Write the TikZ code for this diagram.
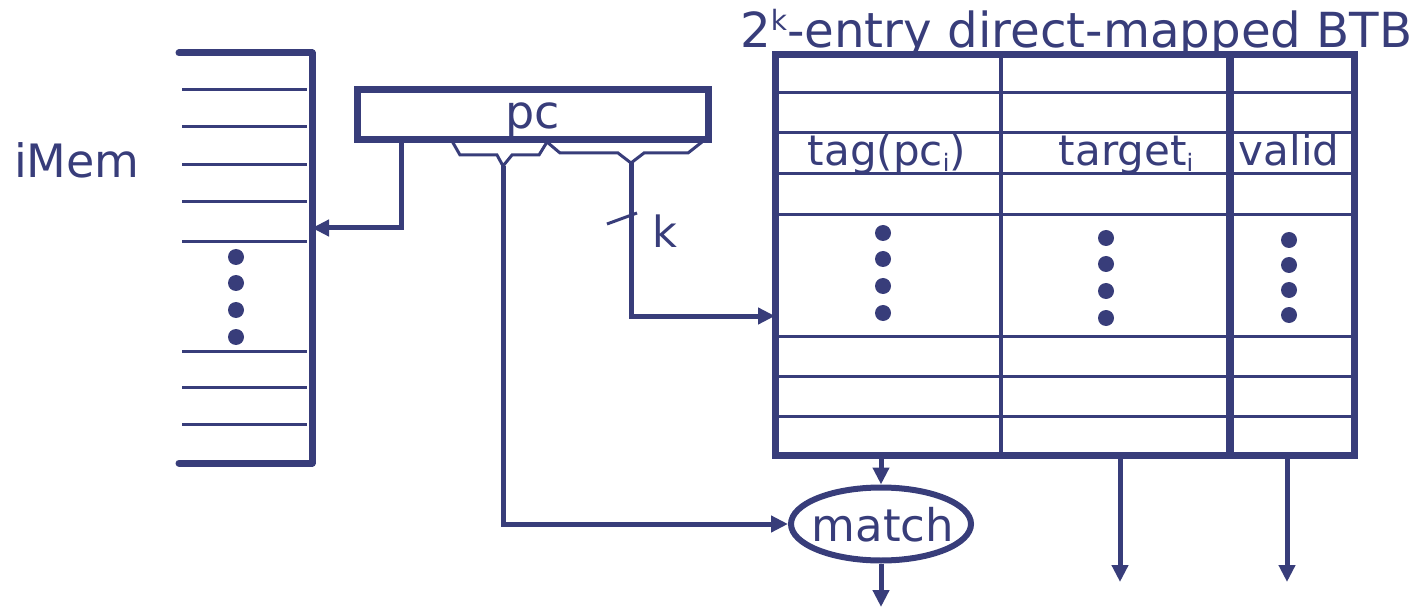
\documentclass[tikz,border=0pt]{standalone}
\usepackage{fontspec}
\setmainfont{DejaVu Sans}
\usetikzlibrary{arrows.meta,shapes.geometric}
\definecolor{ink}{RGB}{56,61,122}
\begin{document}
\begin{tikzpicture}[x=1pt,y=-1pt,
  every node/.style={text=ink, inner sep=0pt},
  heavy/.style={draw=ink,line width=7pt},
  wire/.style={draw=ink,line width=5pt},
  fine/.style={draw=ink,line width=3pt},
  arr/.style={-{Triangle[length=17pt,width=16pt]}},
  dot/.style={circle,fill=ink,minimum size=16pt,inner sep=0pt},
  lbl/.style={font=\fontsize{42}{45}\selectfont, anchor=base}]
\useasboundingbox (0,0) rectangle (1420,609);

% iMem
\draw[heavy, line cap=round, line join=round] (179,53) -- (312,53) -- (312,463) -- (179,463);
\foreach \y in {90,127,165,202,242,351,387,424} \draw[fine] (182,\y) -- (307,\y);
\foreach \y [count=\i] in {257,283,310,337} \node[dot] (md\i) at (236,\y) {};
\node[font=\fontsize{46}{50}\selectfont, anchor=base] (imem) at (77,178) {iMem};
\coordinate (imemport) at (312,228);

% pc register
\node[draw=ink, line width=7pt, minimum width=351pt, minimum height=50pt] (pc) at (532.5,115) {};
\node[font=\fontsize{46}{50}\selectfont, anchor=base] (pctext) at (533,129) {pc};
\coordinate (pcL) at (401,140);
\draw[wire, arr] (pcL) -- (401,228) -- (imemport);

% bit-field brackets
\coordinate (tagtap) at (503,166);
\coordinate (idxtap) at (631,163);
\draw[fine] (452,141) -- (460,155) -- (497,155) -- (tagtap) -- (512,155) -- (539,155) -- (547,142);
\draw[fine] (547,142) -- (560,153) -- (618,153) -- (idxtap) -- (644,153) -- (688,153) -- (702,142);

% BTB
\node[font=\fontsize{48.3}{50}\selectfont, anchor=base west] (title) at (740,48)
  {2{\fontsize{28}{28}\selectfont\raisebox{17pt}{k}}-entry direct-mapped BTB};
\draw[heavy] (775,55) rectangle (1354,455);
\foreach \y in {93,133,174,215,336,376,416} \draw[fine] (775,\y) -- (1354,\y);
\draw[draw=ink, line width=4pt] (1001,55) -- (1001,455);
\draw[draw=ink, line width=8pt] (1230,55) -- (1230,455);
\node[lbl] (tag) at (887,166) {tag(pc{\fontsize{24}{24}\selectfont\raisebox{-6pt}{i}})};
\node[lbl] (target) at (1126,166) {target{\fontsize{24}{24}\selectfont\raisebox{-6pt}{i}}};
\node[lbl] (valid) at (1289,166) {valid};
\foreach \y [count=\i] in {233,259,286,313} \node[dot] (ta\i) at (883,\y) {};
\foreach \y [count=\i] in {238,264,291,318} \node[dot] (tb\i) at (1106,\y) {};
\foreach \y [count=\i] in {240,265,290,315} \node[dot] (tc\i) at (1289,\y) {};
\coordinate (btbport) at (775,316);

% index wire
\draw[wire, arr] (idxtap) -- (631,316) -- (btbport);
\draw[fine] (607,224) -- (637,213);
\node[font=\fontsize{43}{45}\selectfont, anchor=base] (k) at (665,248) {k};

% match
\node[ellipse, draw=ink, line width=6pt, minimum width=180pt, minimum height=73pt] (match) at (881,524) {};
\node[font=\fontsize{45}{50}\selectfont, anchor=base] (matchtext) at (883,541) {match};
\draw[wire, arr] (tagtap) -- (503,524) -- (match.west);
\coordinate (tagout) at (881,457);
\coordinate (matchout) at (881,607);
\coordinate (targout) at (1120,457);
\coordinate (targend) at (1120,582);
\coordinate (valout) at (1287,457);
\coordinate (valend) at (1287,582);
\draw[wire, arr] (tagout) -- (match.north);
\draw[wire, arr] (match.south) -- (matchout);
\draw[wire, arr] (targout) -- (targend);
\draw[wire, arr] (valout) -- (valend);
\end{tikzpicture}
\end{document}
